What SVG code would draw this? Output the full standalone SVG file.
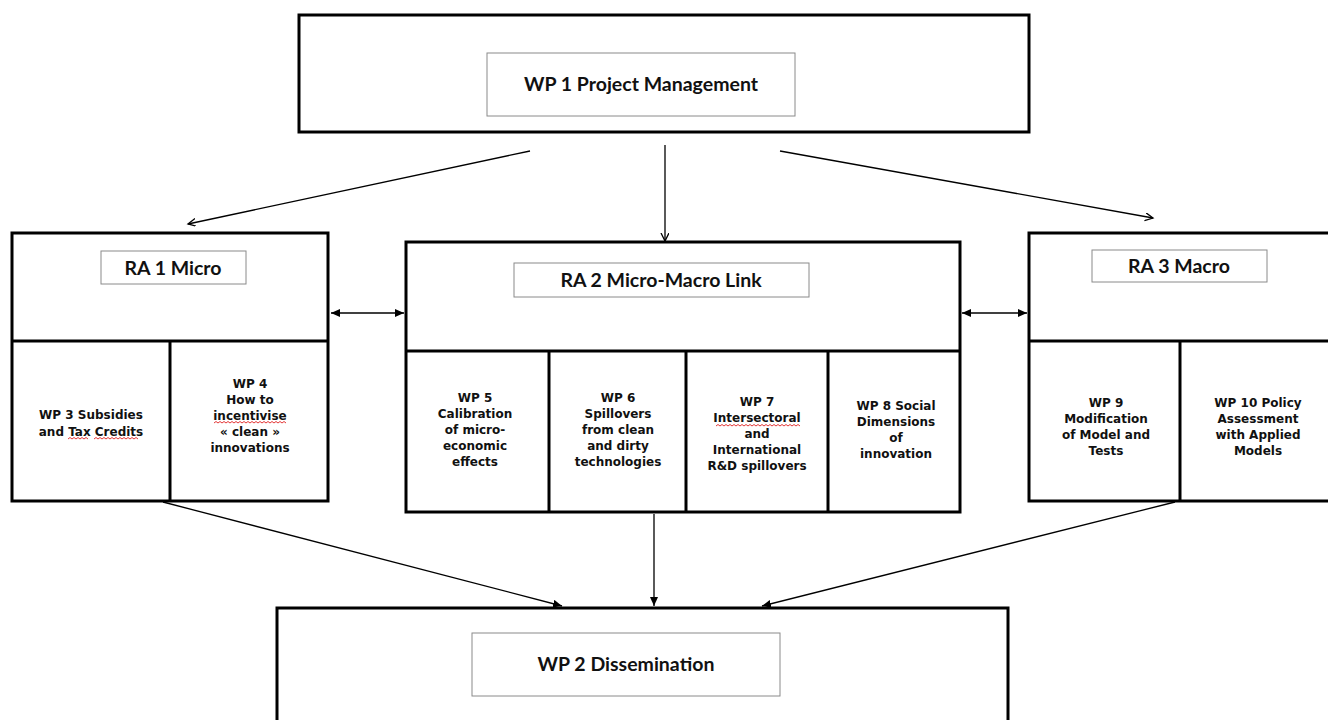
<svg xmlns="http://www.w3.org/2000/svg" width="1328" height="720" viewBox="0 0 1328 720">
<style>
.box{fill:#fff;stroke:#000;stroke-width:3}
.div{stroke:#000;stroke-width:3;fill:none}
.lbl{fill:#fff;stroke:#8a8a8a;stroke-width:1}
.t{font-family:Lato,"Liberation Sans",sans-serif;font-weight:bold;font-size:19.5px;fill:#111;text-anchor:middle}
.w{font-family:"DejaVu Sans",Verdana,sans-serif;font-weight:bold;font-size:12px;fill:#111;text-anchor:middle}
.c{stroke:#000;stroke-width:1.3;fill:none}
.sq{stroke:#e02020;stroke-width:0.9;fill:none}
</style>
<defs>
<marker id="open" markerUnits="userSpaceOnUse" markerWidth="10" markerHeight="10" refX="8" refY="4" orient="auto"><path d="M0,0 L8,4 L0,8" fill="none" stroke="#000" stroke-width="1.3"/></marker>
<marker id="fill" markerUnits="userSpaceOnUse" markerWidth="11" markerHeight="10" refX="9" refY="4" orient="auto-start-reverse"><path d="M0,0 L9,4 L0,8 z" fill="#000"/></marker>
</defs>
<g id="wp1">
<rect class="box" x="299" y="15" width="730" height="117"/>
<rect class="lbl" x="487" y="53" width="308" height="63"/>
<text class="t" x="641" y="91">WP 1 Project Management</text>
</g>
<g id="ra1">
<rect class="box" x="12" y="233" width="316" height="268"/>
<line class="div" x1="12" y1="341" x2="328" y2="341"/>
<line class="div" x1="170" y1="341" x2="170" y2="501"/>
<rect class="lbl" x="101" y="251" width="145" height="33"/>
<text class="t" x="173" y="275">RA 1 Micro</text>
</g>
<g id="wp3"><text class="w"><tspan x="91" y="419">WP 3 Subsidies</tspan><tspan x="91" y="436">and Tax Credits</tspan></text>
<path class="sq" d="M68,439 l2,-1.5 l2,1.5 l2,-1.5 l2,1.5 l2,-1.5 l2,1.5 l2,-1.5 l2,1.5 l2,-1.5 l2,1.5 m6,0 l2,-1.5 l2,1.5 l2,-1.5 l2,1.5 l2,-1.5 l2,1.5 l2,-1.5 l2,1.5 l2,-1.5 l2,1.5 l2,-1.5 l2,1.5 l2,-1.5 l2,1.5 l2,-1.5 l2,1.5 l2,-1.5 l2,1.5 l2,-1.5 l2,1.5 l2,-1.5 l2,1.5"/></g>
<g id="wp4"><text class="w"><tspan x="250" y="388">WP 4</tspan><tspan x="250" y="404">How to</tspan><tspan x="250" y="420">incentivise</tspan><tspan x="250" y="436">« clean »</tspan><tspan x="250" y="452">innovations</tspan></text>
<path class="sq" d="M214,423 l2,-1.5 l2,1.5 l2,-1.5 l2,1.5 l2,-1.5 l2,1.5 l2,-1.5 l2,1.5 l2,-1.5 l2,1.5 l2,-1.5 l2,1.5 l2,-1.5 l2,1.5 l2,-1.5 l2,1.5 l2,-1.5 l2,1.5 l2,-1.5 l2,1.5 l2,-1.5 l2,1.5 l2,-1.5 l2,1.5 l2,-1.5 l2,1.5 l2,-1.5 l2,1.5 l2,-1.5 l2,1.5 l2,-1.5 l2,1.5 l2,-1.5 l2,1.5 l2,-1.5 l2,1.5"/></g>
<g id="ra2">
<rect class="box" x="406" y="242" width="554" height="270"/>
<line class="div" x1="406" y1="351" x2="960" y2="351"/>
<line class="div" x1="549" y1="351" x2="549" y2="512"/>
<line class="div" x1="686" y1="351" x2="686" y2="512"/>
<line class="div" x1="828" y1="351" x2="828" y2="512"/>
<rect class="lbl" x="514" y="263" width="295" height="34"/>
<text class="t" x="661" y="287">RA 2 Micro-Macro Link</text>
</g>
<g id="wp5"><text class="w"><tspan x="475" y="402">WP 5</tspan><tspan x="475" y="418">Calibration</tspan><tspan x="475" y="434">of micro-</tspan><tspan x="475" y="450">economic</tspan><tspan x="475" y="466">effects</tspan></text></g>
<g id="wp6"><text class="w"><tspan x="618" y="402">WP 6</tspan><tspan x="618" y="418">Spillovers</tspan><tspan x="618" y="434">from clean</tspan><tspan x="618" y="450">and dirty</tspan><tspan x="618" y="466">technologies</tspan></text></g>
<g id="wp7"><text class="w"><tspan x="757" y="406">WP 7</tspan><tspan x="757" y="422">Intersectoral</tspan><tspan x="757" y="438">and</tspan><tspan x="757" y="454">International</tspan><tspan x="757" y="470">R&amp;D spillovers</tspan></text>
<path class="sq" d="M716,426 l2,-1.5 l2,1.5 l2,-1.5 l2,1.5 l2,-1.5 l2,1.5 l2,-1.5 l2,1.5 l2,-1.5 l2,1.5 l2,-1.5 l2,1.5 l2,-1.5 l2,1.5 l2,-1.5 l2,1.5 l2,-1.5 l2,1.5 l2,-1.5 l2,1.5 l2,-1.5 l2,1.5 l2,-1.5 l2,1.5 l2,-1.5 l2,1.5 l2,-1.5 l2,1.5 l2,-1.5 l2,1.5 l2,-1.5 l2,1.5 l2,-1.5 l2,1.5 l2,-1.5 l2,1.5 l2,-1.5 l2,1.5 l2,-1.5 l2,1.5 l2,-1.5 l2,1.5"/></g>
<g id="wp8"><text class="w"><tspan x="896" y="410">WP 8 Social</tspan><tspan x="896" y="426">Dimensions</tspan><tspan x="896" y="442">of</tspan><tspan x="896" y="458">innovation</tspan></text></g>
<g id="ra3">
<rect class="box" x="1029" y="233" width="320" height="268"/>
<line class="div" x1="1029" y1="341" x2="1349" y2="341"/>
<line class="div" x1="1180" y1="341" x2="1180" y2="501"/>
<rect class="lbl" x="1092" y="250" width="175" height="32"/>
<text class="t" x="1179" y="273">RA 3 Macro</text>
</g>
<g id="wp9"><text class="w"><tspan x="1106" y="407">WP 9</tspan><tspan x="1106" y="423">Modification</tspan><tspan x="1106" y="439">of Model and</tspan><tspan x="1106" y="455">Tests</tspan></text></g>
<g id="wp10"><text class="w"><tspan x="1258" y="407">WP 10 Policy</tspan><tspan x="1258" y="423">Assessment</tspan><tspan x="1258" y="439">with Applied</tspan><tspan x="1258" y="455">Models</tspan></text></g>
<g id="wp2">
<rect class="box" x="277" y="608" width="731" height="130"/>
<rect class="lbl" x="472" y="633" width="308" height="63"/>
<text class="t" x="626" y="671">WP 2 Dissemination</text>
</g>
<g id="connectors">
<line class="c" x1="530" y1="151" x2="188" y2="224" marker-end="url(#open)"/>
<line class="c" x1="665" y1="145" x2="665" y2="241" marker-end="url(#open)"/>
<line class="c" x1="780" y1="151" x2="1153" y2="218" marker-end="url(#open)"/>
<line class="c" x1="331" y1="313" x2="404" y2="313" marker-start="url(#fill)" marker-end="url(#fill)"/>
<line class="c" x1="962" y1="313" x2="1027" y2="313" marker-start="url(#fill)" marker-end="url(#fill)"/>
<line class="c" x1="163" y1="502" x2="562" y2="606" marker-end="url(#fill)"/>
<line class="c" x1="654" y1="514" x2="654" y2="606" marker-end="url(#fill)"/>
<line class="c" x1="1175" y1="502" x2="762" y2="606" marker-end="url(#fill)"/>
</g>
</svg>
